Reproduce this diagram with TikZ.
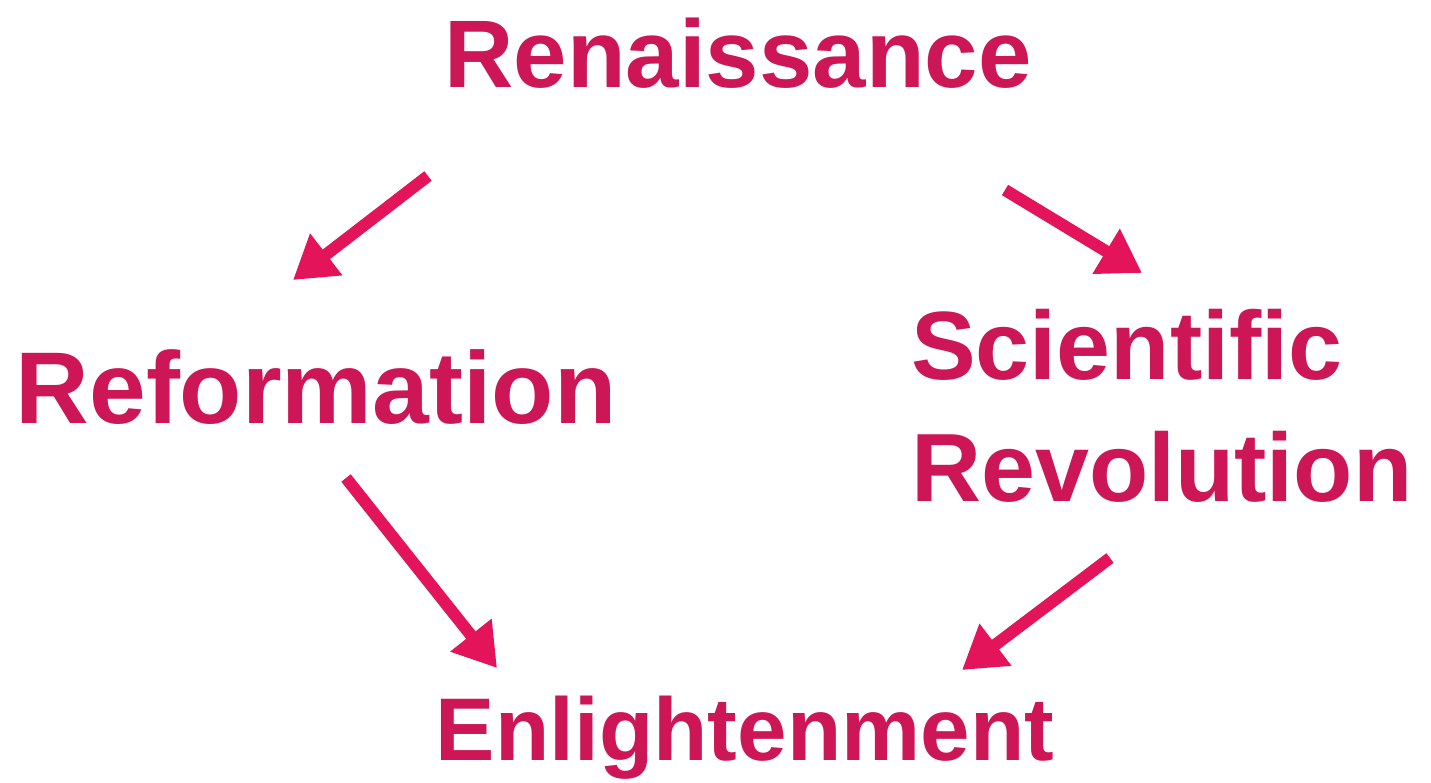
\documentclass[tikz,border=0pt]{standalone}
\usepackage{fontspec}
\setmainfont{Liberation Sans}
\usetikzlibrary{arrows.meta}
\definecolor{labelred}{RGB}{205,22,85}
\definecolor{arrowred}{RGB}{228,20,90}
\begin{document}
\begin{tikzpicture}[x=1pt,y=-1pt,
  era/.style={text=labelred,font=\fontsize{97}{122}\selectfont\bfseries,inner sep=0pt},
  flow/.style={draw=arrowred,line width=12pt,line cap=butt,
    -{Triangle[length=42pt,width=50pt]}}]
\useasboundingbox[fill=white] (0,0) rectangle (1431,783);
\node[era,anchor=base,font=\fontsize{96}{122}\selectfont\bfseries] (ren) at (738,88) {Renaissance};
\node[era,anchor=base,font=\fontsize{102}{122}\selectfont\bfseries] (ref) at (316,423) {Reformation};
\node[era,anchor=north west,align=left] (sci) at (911,309) {Scientific\\Revolution};
\node[era,anchor=base,font=\fontsize{89}{122}\selectfont\bfseries] (enl) at (745,760) {Enlightenment};
\coordinate (a1s) at (428,176); \coordinate (a1e) at (293,280);
\coordinate (a2s) at (1005,190); \coordinate (a2e) at (1142,273);
\coordinate (a3s) at (346,478); \coordinate (a3e) at (497,668);
\coordinate (a4s) at (1110,558); \coordinate (a4e) at (962,670);
\draw[flow] (a1s) -- (a1e);
\draw[flow] (a2s) -- (a2e);
\draw[flow] (a3s) -- (a3e);
\draw[flow] (a4s) -- (a4e);
\end{tikzpicture}
\end{document}
